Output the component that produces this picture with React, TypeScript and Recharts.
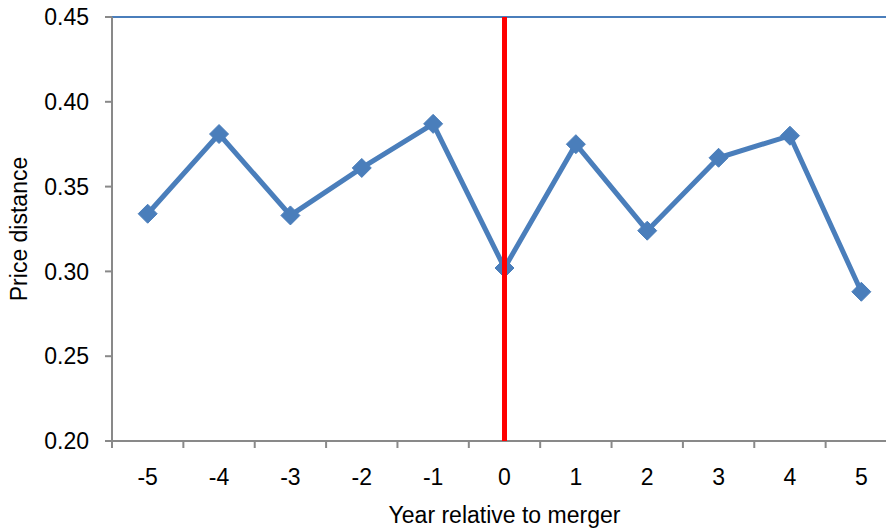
import React from "react";
import { LineChart, Line, XAxis, YAxis, ReferenceLine } from "recharts";

// Year relative to merger and the measured price distance for each year
const years = [-5, -4, -3, -2, -1, 0, 1, 2, 3, 4, 5];
const priceDistance = [0.334, 0.381, 0.333, 0.361, 0.387, 0.302, 0.375, 0.324, 0.367, 0.38, 0.288];
const yTicks = [0.2, 0.25, 0.3, 0.35, 0.4, 0.45];
// category boundaries, where the x axis draws its tick marks
const boundaryTicks = [-5.5, -4.5, -3.5, -2.5, -1.5, -0.5, 0.5, 1.5, 2.5, 3.5, 4.5, 5.5];

const data = years.map((year, i) => ({ year, value: priceDistance[i] }));

const FONT = "'Liberation Sans', Arial, sans-serif";
const FONT_SIZE = 23;
const BLUE = "#4A7EBB";
const AXIS = "#898989";

const Diamond = (props: any) => {
  const { cx, cy } = props;
  if (cx == null || cy == null) return null;
  const r = 9.5;
  return (
    <polygon
      points={`${cx},${cy - r} ${cx + r},${cy} ${cx},${cy + r} ${cx - r},${cy}`}
      fill={BLUE}
      stroke={BLUE}
      strokeWidth={1}
    />
  );
};

const YTitle = (props: any) => {
  const vb = props.viewBox || { x: 0, y: 0, width: 0, height: 0 };
  const cx = vb.x + 19;
  const cy = vb.y + vb.height / 2;
  return (
    <text
      x={cx}
      y={cy}
      transform={`rotate(-90 ${cx} ${cy})`}
      textAnchor="middle"
      dominantBaseline="central"
      fontFamily={FONT}
      fontSize={FONT_SIZE}
      fill="#000"
    >
      Price distance
    </text>
  );
};

const XTitle = (props: any) => {
  const vb = props.viewBox || { x: 0, y: 0, width: 0, height: 0 };
  return (
    <text
      x={vb.x + vb.width / 2}
      y={vb.y + vb.height - 6}
      textAnchor="middle"
      fontFamily={FONT}
      fontSize={FONT_SIZE}
      fill="#000"
    >
      Year relative to merger
    </text>
  );
};

export default function App() {
  return (
    <div
      style={{
        position: "fixed",
        left: 0,
        top: 0,
        width: 886,
        height: 529,
        overflow: "hidden",
        background: "#fff",
      }}
    >
      <LineChart
        width={900}
        height={529}
        data={data}
        margin={{ top: 17, right: 3, bottom: 0, left: 0 }}
      >
        <XAxis
          xAxisId="frame"
          dataKey="year"
          type="number"
          domain={[-5.5, 5.5]}
          ticks={boundaryTicks}
          tickFormatter={() => ""}
          height={1}
          axisLine={{ stroke: AXIS, strokeWidth: 2 }}
          tickLine={{ stroke: AXIS, strokeWidth: 2 }}
          tickSize={7}
          allowDataOverflow
        />
        <XAxis
          xAxisId="lbl"
          dataKey="year"
          type="number"
          domain={[-5.5, 5.5]}
          ticks={years}
          height={87}
          axisLine={false}
          tickLine={false}
          tickSize={0}
          tickMargin={27}
          tick={{ fontFamily: FONT, fontSize: FONT_SIZE, fill: "#000" }}
          label={<XTitle />}
          allowDataOverflow
        />
        <YAxis
          type="number"
          domain={[0.2, 0.45]}
          ticks={yTicks}
          width={112}
          tickFormatter={(v: number) => v.toFixed(2)}
          axisLine={{ stroke: AXIS, strokeWidth: 2 }}
          tickLine={{ stroke: AXIS, strokeWidth: 2 }}
          tickSize={7}
          tickMargin={16}
          tick={{ fontFamily: FONT, fontSize: FONT_SIZE, fill: "#000" }}
          label={<YTitle />}
          allowDataOverflow
        />
        <ReferenceLine xAxisId="lbl" y={0.45} stroke={BLUE} strokeWidth={2} />
        <Line
          xAxisId="lbl"
          dataKey="value"
          stroke={BLUE}
          strokeWidth={5}
          dot={<Diamond />}
          activeDot={false}
          isAnimationActive={false}
        />
        <ReferenceLine
          xAxisId="lbl"
          x={0}
          stroke="#FF0000"
          strokeWidth={5}
          {...({ zIndex: 1000 } as any)}
        />
      </LineChart>
    </div>
  );
}
